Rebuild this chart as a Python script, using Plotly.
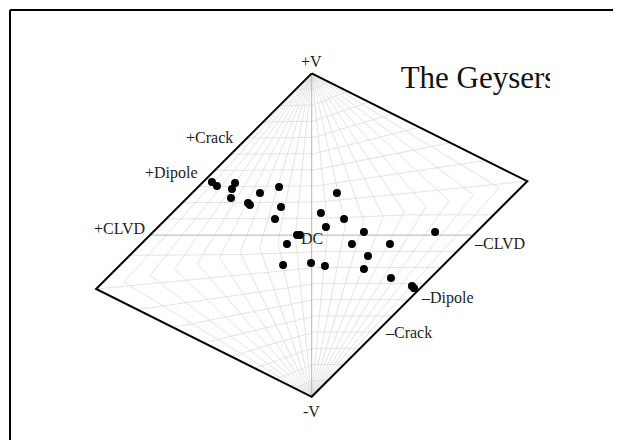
import numpy as np
import plotly.graph_objects as go

# ---- data: Hudson source-type plot coordinates (u, v) of events ----
event_u = [-0.617, -0.586, -0.474, -0.493, -0.499, -0.394, -0.382, -0.320, -0.202, -0.190,
           -0.227, 0.057, 0.088, 0.156, 0.200, 0.323, 0.763, -0.091, -0.072, -0.153,
           0.249, 0.484, 0.348, -0.177, -0.004, 0.082, 0.323, 0.490, 0.620, 0.633]
event_v = [0.328, 0.304, 0.322, 0.285, 0.229, 0.199, 0.186, 0.260, 0.297, 0.174,
           0.100, 0.136, 0.050, 0.260, 0.100, 0.019, 0.019, 0.001, 0.001, -0.055,
           -0.055, -0.055, -0.129, -0.185, -0.172, -0.191, -0.210, -0.265, -0.315, -0.328]

title_text = "The Geysers"

# reference source types (label, u, v)
ref_labels = ["+V", "-V", "+CLVD", "+Dipole", "+Crack", "\u2013CLVD", "\u2013Dipole", "\u2013Crack", "DC"]
ref_u = [0, 0, -1, -2/3, -4/9, 1, 2/3, 4/9, 0]
ref_v = [1, -1, 0, 1/3, 5/9, 0, -1/3, -5/9, 0]

grid_T = np.round(np.linspace(-1, 1, 21), 2)
grid_k = np.round(np.linspace(-1, 1, 21), 2)


def tk_to_uv(tau, k):
    tau = np.asarray(tau, float)
    k = np.asarray(k, float)
    f = np.ones_like(tau)
    q1 = (tau >= 0) & (k >= 0)
    q3 = (tau < 0) & (k < 0)
    f = np.where(q1 & (tau < 4 * k), 1 - tau / 2, f)
    f = np.where(q1 & (tau >= 4 * k), 1 - 2 * k, f)
    f = np.where(q3 & (tau > 4 * k), 1 + tau / 2, f)
    f = np.where(q3 & (tau <= 4 * k), 1 + 2 * k, f)
    return tau / f, k / f


fig = go.Figure()

# grid lines
gx, gy = [], []
for T in grid_T:
    if abs(T) < 1e-9 or abs(abs(T) - 1) < 1e-9:
        continue
    kk = np.linspace(-1, 1, 401)
    u, v = tk_to_uv(T * (1 - np.abs(kk)), kk)
    gx += list(u) + [None]
    gy += list(v) + [None]
for K in grid_k:
    if abs(K) < 1e-9 or abs(abs(K) - 1) < 1e-9:
        continue
    TT = np.linspace(-1, 1, 401)
    u, v = tk_to_uv(TT * (1 - abs(K)), np.full_like(TT, K))
    gx += list(u) + [None]
    gy += list(v) + [None]
fig.add_trace(go.Scatter(x=gx, y=gy, mode="lines", line=dict(color="#dcdcdc", width=0.8),
                         hoverinfo="skip", showlegend=False))

# main axes (T=0 and k=0)
ax_u, ax_v = [], []
kk = np.linspace(-1, 1, 3)
u, v = tk_to_uv(np.zeros_like(kk), kk)
ax_u += list(u) + [None]
ax_v += list(v) + [None]
TT = np.linspace(-1, 1, 3)
u, v = tk_to_uv(TT, np.zeros_like(TT))
ax_u += list(u)
ax_v += list(v)
fig.add_trace(go.Scatter(x=ax_u, y=ax_v, mode="lines", line=dict(color="#b4b4b4", width=1),
                         hoverinfo="skip", showlegend=False))

# outline: the four corners of the skewed diamond, from (T, k) space
cT = [0, 1, 0, -1, 0]
ck = [1, 0.2, -1, -0.2, 1]
corner_u, corner_v = tk_to_uv(np.array(cT) * (1 - np.abs(ck)), np.array(ck))
fig.add_trace(go.Scatter(x=list(corner_u), y=list(corner_v), mode="lines",
                         line=dict(color="black", width=2),
                         hoverinfo="skip", showlegend=False))

# events
fig.add_trace(go.Scatter(x=event_u, y=event_v, mode="markers",
                         marker=dict(color="black", size=8), showlegend=False))

# title (clipped by the plot area like the original)
fig.add_trace(go.Scatter(x=[0.55], y=[0.955], mode="text", text=[title_text],
                         textposition="middle right", cliponaxis=True,
                         textfont=dict(family="Liberation Serif", size=31, color="#111"),
                         hoverinfo="skip", showlegend=False))

# labels
specs = {
    "+V": dict(xanchor="center", yanchor="bottom", xshift=0, yshift=2),
    "-V": dict(xanchor="center", yanchor="top", xshift=0, yshift=-5),
    "+CLVD": dict(xanchor="right", yanchor="middle", xshift=-4, yshift=7),
    "+Dipole": dict(xanchor="right", yanchor="middle", xshift=-5, yshift=8),
    "+Crack": dict(xanchor="right", yanchor="middle", xshift=-6, yshift=8),
    "\u2013CLVD": dict(xanchor="left", yanchor="middle", xshift=0, yshift=-8),
    "\u2013Dipole": dict(xanchor="left", yanchor="middle", xshift=0, yshift=-9),
    "\u2013Crack": dict(xanchor="left", yanchor="middle", xshift=0, yshift=-8),
    "DC": dict(xanchor="center", yanchor="middle", xshift=0, yshift=-3),
}
for lab, u_, v_ in zip(ref_labels, ref_u, ref_v):
    fig.add_annotation(x=u_, y=v_, xref="x", yref="y", text=lab, showarrow=False,
                       font=dict(family="Liberation Serif", size=16, color="#222"),
                       borderpad=0, **specs[lab])

# the page body adds an 8px offset, so everything is placed 8px up/left
off = 8
fx = (10 - off) / 621
fy = 1 - (10 - off) / 440
fig.add_shape(type="line", xref="paper", yref="paper", x0=fx, x1=1.02, y0=fy, y1=fy,
              line=dict(color="black", width=2))
fig.add_shape(type="line", xref="paper", yref="paper", x0=fx, x1=fx, y0=-0.02, y1=fy,
              line=dict(color="black", width=2))

s = 161.7
cx, cy = 311.7 - off, 235.1 - off
plot_w = 550 - off
fig.update_layout(
    width=621, height=440,
    margin=dict(l=0, r=0, t=0, b=0),
    paper_bgcolor="white", plot_bgcolor="white",
    xaxis=dict(domain=[0, plot_w/621], range=[-cx/s, (plot_w-cx)/s], visible=False, fixedrange=True),
    yaxis=dict(domain=[0, 1], range=[-(440-cy)/s, cy/s], visible=False, fixedrange=True),
    showlegend=False,
)

fig.write_html("out.html")
